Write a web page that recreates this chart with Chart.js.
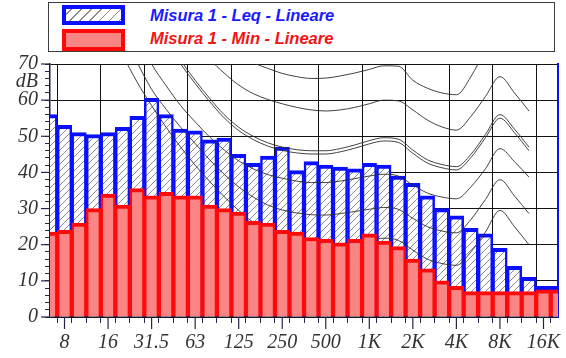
<!DOCTYPE html>
<html>
<head>
<meta charset="utf-8">
<script src="https://cdn.jsdelivr.net/npm/chart.js@4.4.1/dist/chart.umd.min.js"></script>
<style>
  html, body { margin: 0; padding: 0; background: #fff; }
  #wrap { position: relative; width: 566px; height: 358px; overflow: hidden; }
  #c { position: absolute; left: 0; top: 0; }
  #lgbox { position: absolute; left: 48px; top: 2px; width: 505px; height: 48px;
           border: 1.5px solid #3c3c3c; background: #fff; }
  .sw { position: absolute; left: 62px; width: 55px; border-style: solid; border-width: 4px; }
  #sw1 { top: 5px; height: 12px; border-color: #0a10ff;
         background: repeating-linear-gradient(135deg, #fff 0 3.5px, #8a8a8a 3.5px 4.5px, #fff 4.5px 7px); }
  #sw2 { top: 29px; height: 14px; border-color: #ff0a0a; background: #fa8585; }
  .lt { position: absolute; left: 150px; font: italic bold 16.5px "Liberation Sans", Arial, sans-serif;
        line-height: 20px; white-space: nowrap; }
  #t1 { top: 5px; color: #1a1aff; }
  #t2 { top: 28px; color: #f01515; }
</style>
</head>
<body>
<div id="wrap">
  <canvas id="c" width="566" height="358"></canvas>
  <div id="lgbox"></div>
  <div class="sw" id="sw1"></div>
  <div class="sw" id="sw2"></div>
  <div class="lt" id="t1">Misura 1 - Leq - Lineare</div>
  <div class="lt" id="t2">Misura 1 - Min - Lineare</div>
</div>
<script>
// Third-octave bands, 6.3 Hz to 20 kHz
const bands = ['6.3','8','10','12.5','16','20','25','31.5','40','50','63','80','100','125','160','200',
  '250','315','400','500','630','800','1K','1.25K','1.6K','2K','2.5K','3.15K','4K','5K','6.3K','8K',
  '10K','12.5K','16K','20K'];
// Bands that get a label and a vertical grid line
const octaveLabels = ['8','16','31.5','63','125','250','500','1K','2K','4K','8K','16K'];
// Level axis ticks (dB); 65 carries the unit label
const dbTicks = [0,2,4,6,8,10,12,14,16,18,20,22,24,26,28,30,32,34,36,38,40,42,44,46,48,50,
  52,54,56,58,60,62,64,65,66,68,70];

// Measured spectra, dB (linear weighting)
const leqLevels = [56, 53, 51, 50.5, 51, 52.5, 55.5, 60.5, 56, 52, 51.5, 49, 49.5, 45, 42.5, 44.5,
  47, 40.5, 43, 42, 41.5, 41, 42.5, 42, 39, 37, 33.5, 30, 28, 24.5, 23, 19, 14, 11, 8.5, 8.5];
const minLevels = [23.5, 24, 26, 30, 34, 31, 35.5, 33.5, 34.5, 33.5, 33.5, 31, 30, 29, 26.5, 26,
  24, 23.5, 22, 21.5, 20.5, 21.5, 23, 21, 19.5, 16, 13.3, 10, 8.5, 7, 7, 7, 7, 7, 7.5, 7.5];

// Equal-loudness reference contours drawn behind the spectra
const contour70 = [null,null,null,null,null,null,null,null,null,null,null,null,80,74,70.5,68.8,
  67.4,66.5,66,66.1,66.7,67.5,68.5,69.5,69.4,65.5,63.3,62,61.5,66.5,74,null,null,null,null,null];
const contour60 = [null,null,null,null,null,null,null,null,null,null,78,71.5,67.5,64.2,61.8,60.2,
  59,58,57.3,57,57.3,58,59,60,59.8,57.3,54.5,52.6,51.7,55.5,61,66.5,62,57,null,null];
const contour50a = [null,null,null,null,null,null,null,null,77,71,65.5,60.5,56,52.5,50,48.2,
  47,46.3,46,46,46.6,47.6,48.8,49.6,49.2,46.2,43.5,42.2,41.6,45,50.5,56,52,47,null,null];
const contour50b = [null,null,null,null,null,null,null,null,76,70,64.6,59.6,55.1,51.6,49.1,47.3,
  46.1,45.4,45.1,45.1,45.7,46.7,47.9,48.7,48.3,45.3,42.6,41.3,40.7,44.1,49.6,55,51,46,null,null];
const contour40 = [null,null,null,null,null,null,78,70,64,58.5,54,49.8,46.2,43.2,41,39.4,
  38.4,37.6,37.2,37.2,37.6,38.3,39,39.5,39,36.5,34.3,33.2,32.7,36,41,46.6,43,38.7,null,null];
const contour30 = [null,null,null,null,null,79,70.5,63,57.5,52.5,48,43.5,39.5,36,33.2,31,
  29.6,28.8,28.3,28.2,28.6,29.2,29.8,30.3,29.8,27.3,25,23.8,23.3,27,32.5,38,33.5,28.6,null,null];
const contour20 = [null,null,null,null,80,72.5,65,58.5,52.5,47,42,37.5,33.3,29.5,26.2,23.8,
  22,20.9,20.3,20,20.2,20.6,21.2,21.8,21.2,18.5,16,14.8,14.3,18,23.5,29.5,25,20,null,null];

const ctx = document.getElementById('c').getContext('2d');

// Diagonal hatch used for the Leq bars
function makeHatch() {
  const n = 7;
  const t = document.createElement('canvas');
  t.width = n; t.height = n;
  const g = t.getContext('2d');
  g.fillStyle = '#ffffff';
  g.fillRect(0, 0, n, n);
  g.strokeStyle = '#8a8a8a';
  g.lineWidth = 1;
  g.beginPath();
  g.moveTo(0, n); g.lineTo(n, 0);
  g.moveTo(-1, 1); g.lineTo(1, -1);
  g.moveTo(n - 1, n + 1); g.lineTo(n + 1, n - 1);
  g.stroke();
  return ctx.createPattern(t, 'repeat');
}

const axisFont = { family: "'Liberation Serif', 'Times New Roman', serif", style: 'italic', size: 20 };
const tickInk = '#26264a';

function contourSet(values) {
  return {
    type: 'line', data: values, borderColor: 'rgba(45,45,45,0.9)', borderWidth: 1,
    pointRadius: 0, fill: false, cubicInterpolationMode: 'monotone', spanGaps: false, order: 2
  };
}

// Longer tick marks on octave bands and on every 10 dB
const majorTicks = {
  id: 'majorTicks',
  afterDraw(chart) {
    const { ctx: c, scales: { x, y } } = chart;
    c.save();
    c.strokeStyle = tickInk;
    c.lineWidth = 1.2;
    x.ticks.forEach((t, i) => {
      if (octaveLabels.includes(bands[i])) {
        const px = x.getPixelForTick(i);
        c.beginPath(); c.moveTo(px, x.top); c.lineTo(px, x.top + 12); c.stroke();
      }
    });
    y.ticks.forEach((t, i) => {
      if (t.value % 10 === 0) {
        const py = y.getPixelForTick(i);
        c.beginPath(); c.moveTo(y.right - 9, py); c.lineTo(y.right, py); c.stroke();
      }
    });
    c.restore();
  }
};

new Chart(ctx, {
  type: 'bar',
  data: {
    labels: bands,
    datasets: [
      {
        label: 'Misura 1 - Min - Lineare', data: minLevels,
        backgroundColor: '#fa8585', borderColor: '#ff0a0a',
        borderWidth: { top: 4, left: 2.5, right: 2.5, bottom: 0 },
        grouped: false, barPercentage: 1, categoryPercentage: 1, order: 1
      },
      {
        label: 'Misura 1 - Leq - Lineare', data: leqLevels,
        backgroundColor: makeHatch(), borderColor: '#0a10ff',
        borderWidth: { top: 4, left: 2.5, right: 2.5, bottom: 0 },
        grouped: false, barPercentage: 1, categoryPercentage: 1, order: 3
      },
      contourSet(contour70),
      contourSet(contour60),
      contourSet(contour50a),
      contourSet(contour50b),
      contourSet(contour40),
      contourSet(contour30),
      contourSet(contour20)
    ]
  },
  options: {
    responsive: false,
    animation: false,
    layout: { padding: { top: 64, left: 0, right: 0, bottom: 0 } },
    plugins: { legend: { display: false }, tooltip: { enabled: false } },
    scales: {
      x: {
        type: 'category',
        offset: false,
        afterFit: s => { s.height = 41; },
        grid: {
          color: c => octaveLabels.includes(bands[c.index]) ? '#111' : 'transparent',
          lineWidth: 1, tickLength: 6, tickColor: tickInk
        },
        border: { color: '#1d1d3a', width: 1.5 },
        ticks: {
          autoSkip: false, maxRotation: 0, minRotation: 0, padding: 8,
          font: axisFont, color: '#333',
          callback: (v, i) => octaveLabels.includes(bands[i]) ? bands[i] : ''
        }
      },
      y: {
        min: 0, max: 70,
        afterFit: s => { s.width = 50; },
        afterBuildTicks: s => { s.ticks = dbTicks.map(v => ({ value: v })); },
        grid: {
          color: c => (c.tick && c.tick.value % 10 === 0) ? '#111' : 'transparent',
          lineWidth: 1, tickLength: 5,
          tickColor: c => (c.tick && c.tick.value === 65) ? 'transparent' : tickInk
        },
        border: { color: '#1d1d3a', width: 1.5 },
        ticks: {
          autoSkip: false, padding: 7, font: axisFont, color: '#333',
          callback: v => v % 10 === 0 ? String(v) : (v === 65 ? 'dB' : '')
        }
      },
      yRight: {
        position: 'right', min: 0, max: 70,
        afterFit: s => { s.width = 6; },
        grid: { drawOnChartArea: false, drawTicks: false },
        border: { color: '#0a10ff', width: 2 },
        ticks: { display: false }
      }
    }
  },
  plugins: [majorTicks]
});
</script>
</body>
</html>
